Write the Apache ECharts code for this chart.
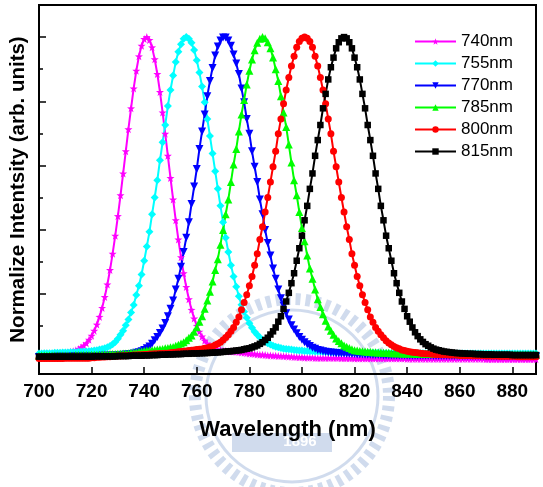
<!DOCTYPE html>
<html>
<head>
<meta charset="utf-8">
<script src="https://cdn.jsdelivr.net/npm/echarts@6/dist/echarts.min.js"></script>
<style>
html, body { margin: 0; padding: 0; background: #fff; }
#main { width: 543px; height: 487px; }
</style>
</head>
<body>
<div id="main"></div>
<script>
// wavelength grid: first sample and step (nm); each array below holds one value per nm, 700..889
var wlStart = 700;
var wlStep = 1;

// normalized intensity, in percent
var int740 = [
  0.9,0.9,0.9,1.0,1.0,1.1,1.2,1.2,1.3,1.4,
  1.5,1.7,1.9,2.1,2.4,2.8,3.3,3.9,4.6,5.7,
  6.9,8.5,10.4,12.8,15.6,19.0,22.9,27.4,32.5,38.1,
  44.2,50.7,57.5,64.4,71.3,77.8,84.0,89.5,94.0,97.3,
  99.4,100,99.1,96.8,93.1,88.5,82.9,76.5,69.9,63.0,
  56.1,49.4,42.9,36.9,31.4,26.4,22.1,18.3,15.0,12.3,
  10.0,8.2,6.7,5.4,4.5,3.7,3.1,2.7,2.6,2.5,
  2.3,2.2,2.1,2.0,2.0,1.9,1.8,1.7,1.6,1.5,
  1.4,1.3,1.2,1.1,1.0,1.0,0.9,0.8,0.8,0.7,
  0.7,0.6,0.6,0.5,0.5,0.4,0.4,0.3,0.3,0.2,
  0.2,0.1,0.1,0.1,0.1,0,0,0,0,0,
  0,0,0,0,0,-0.1,-0.1,-0.1,-0.1,-0.1,
  -0.2,-0.2,-0.2,-0.2,-0.2,-0.2,-0.2,-0.2,-0.2,-0.2,
  -0.2,-0.2,-0.2,-0.2,-0.2,-0.2,-0.2,-0.2,-0.2,-0.2,
  -0.3,-0.3,-0.3,-0.3,-0.3,-0.3,-0.3,-0.3,-0.3,-0.3,
  -0.3,-0.3,-0.3,-0.3,-0.3,-0.3,-0.3,-0.3,-0.3,-0.3,
  -0.3,-0.3,-0.3,-0.3,-0.3,-0.3,-0.3,-0.3,-0.3,-0.3,
  -0.4,-0.4,-0.4,-0.4,-0.4,-0.4,-0.4,-0.4,-0.4,-0.4,
  -0.4,-0.4,-0.4,-0.4,-0.4,-0.4,-0.4,-0.4,-0.4,-0.4
];
var int755 = [
  1.4,1.4,1.5,1.5,1.5,1.5,1.6,1.6,1.6,1.7,
  1.7,1.7,1.8,1.8,1.8,1.9,1.9,2.0,2.0,2.1,
  2.2,2.3,2.4,2.6,2.8,3.0,3.3,3.7,4.3,5.0,
  6.0,7.2,8.5,10.2,12.0,14.2,16.5,19.6,22.5,26.0,
  30.3,34.7,39.3,44.8,50.0,55.4,61.6,67.2,72.6,78.5,
  83.5,88.0,92.2,95.4,97.8,99.5,100,99.5,98.2,96.0,
  92.8,89.0,84.6,79.7,74.5,69.2,63.7,58.2,52.7,47.4,
  42.3,37.5,33.0,28.9,25.4,22.2,19.2,16.6,14.4,12.5,
  10.8,9.4,8.2,7.2,6.4,5.7,5.1,4.6,4.2,3.8,
  3.5,3.3,3.1,2.9,2.8,2.7,2.6,2.5,2.4,2.3,
  2.3,2.2,2.2,2.1,2.1,2.0,2.0,2.0,1.9,1.9,
  1.9,1.8,1.8,1.8,1.8,1.7,1.7,1.7,1.7,1.7,
  1.7,1.6,1.6,1.6,1.6,1.6,1.6,1.6,1.6,1.6,
  1.5,1.5,1.5,1.5,1.5,1.5,1.5,1.5,1.5,1.5,
  1.5,1.5,1.5,1.5,1.5,1.5,1.5,1.5,1.5,1.5,
  1.5,1.5,1.5,1.5,1.5,1.4,1.4,1.4,1.4,1.4,
  1.4,1.4,1.4,1.4,1.4,1.4,1.4,1.4,1.4,1.4,
  1.4,1.4,1.4,1.4,1.4,1.4,1.4,1.4,1.4,1.4,
  1.4,1.4,1.4,1.4,1.4,1.4,1.4,1.4,1.4,1.4
];
var int770 = [
  0.3,0.3,0.3,0.3,0.3,0.3,0.4,0.4,0.4,0.4,
  0.4,0.4,0.4,0.5,0.5,0.5,0.5,0.5,0.5,0.6,
  0.6,0.6,0.6,0.6,0.7,0.7,0.7,0.8,0.8,0.85,
  0.9,0.9,1.0,1.05,1.15,1.25,1.4,1.6,1.8,2.1,
  2.5,3.0,3.6,4.4,5.5,6.5,7.8,9.2,10.9,13.0,
  15.3,17.9,21.3,24.7,28.4,33.0,37.5,42.3,48.0,53.4,
  58.9,65.1,70.6,75.9,81.6,86.3,90.4,94.3,97.1,98.9,
  99.9,99.9,98.9,97.3,94.6,91.8,88.5,84.0,79.7,74.5,
  69.9,64.4,59.6,54.8,49.4,44.8,39.9,35.8,31.9,27.9,
  24.7,21.3,18.6,16.3,13.9,12.0,10.2,8.9,7.7,6.5,
  5.7,4.9,4.3,3.7,3.2,2.9,2.5,2.3,2.1,1.9,
  1.8,1.7,1.6,1.5,1.5,1.4,1.4,1.3,1.3,1.2,
  1.2,1.1,1.1,1.1,1.0,1.0,1.0,0.9,0.9,0.9,
  0.9,0.8,0.8,0.8,0.8,0.8,0.8,0.8,0.8,0.8,
  0.7,0.7,0.7,0.7,0.7,0.7,0.7,0.7,0.7,0.7,
  0.6,0.6,0.6,0.6,0.6,0.6,0.6,0.6,0.6,0.6,
  0.6,0.6,0.6,0.6,0.6,0.6,0.6,0.6,0.6,0.6,
  0.5,0.5,0.5,0.5,0.5,0.5,0.5,0.5,0.5,0.5,
  0.5,0.5,0.5,0.5,0.5,0.5,0.5,0.5,0.5,0.5
];
var int785 = [
  0.8,0.8,0.8,0.8,0.8,0.8,0.8,0.8,0.8,0.8,
  0.8,0.8,0.8,0.8,0.9,0.9,0.9,0.9,0.9,0.9,
  1.0,1.0,1.0,1.0,1.1,1.1,1.1,1.2,1.2,1.2,
  1.3,1.3,1.4,1.4,1.5,1.6,1.7,1.8,1.9,2.0,
  2.2,2.3,2.3,2.4,2.5,2.6,2.7,2.8,3.0,3.1,
  3.3,3.4,3.8,4.1,4.5,4.9,5.5,6.3,7.0,8.2,
  9.6,11.3,13.0,15.3,17.9,20.6,23.8,27.4,30.8,35.3,
  39.9,44.8,49.4,54.8,60.3,65.1,70.6,75.9,80.4,85.2,
  89.5,93.0,95.9,98.2,99.5,100,99.6,98.4,96.5,93.6,
  90.0,86.3,81.6,76.5,72.0,66.5,60.9,55.4,50.7,45.5,
  40.5,36.4,31.9,27.9,24.7,21.3,18.3,15.9,13.6,11.6,
  9.8,8.5,7.2,6.1,5.3,4.6,3.9,3.5,3.1,2.7,
  2.4,2.3,2.2,2.1,2.0,1.9,1.9,1.8,1.8,1.7,
  1.7,1.6,1.6,1.6,1.5,1.5,1.5,1.5,1.4,1.4,
  1.4,1.4,1.4,1.3,1.3,1.3,1.3,1.3,1.3,1.2,
  1.2,1.2,1.2,1.2,1.2,1.2,1.2,1.2,1.2,1.2,
  1.1,1.1,1.1,1.1,1.1,1.1,1.1,1.1,1.1,1.1,
  1.1,1.1,1.1,1.1,1.0,1.0,1.0,1.0,1.0,1.0,
  1.0,1.0,1.0,1.0,1.0,1.0,1.0,1.0,1.0,1.0
];
var int800 = [
  -0.2,-0.2,-0.2,-0.2,-0.2,-0.2,-0.2,-0.2,-0.2,-0.2,
  -0.1,-0.1,-0.1,-0.1,-0.1,-0.1,-0.1,-0.1,-0.1,-0.1,
  0.1,0.1,0.2,0.2,0.3,0.3,0.4,0.4,0.5,0.5,
  0.6,0.6,0.7,0.7,0.8,0.8,0.9,0.9,1.0,1.0,
  1.1,1.1,1.2,1.2,1.3,1.3,1.4,1.4,1.5,1.5,
  1.6,1.7,1.8,1.9,2.0,2.1,2.2,2.3,2.4,2.5,
  2.6,2.7,2.8,3.0,3.1,3.4,3.6,4.0,4.4,4.9,
  5.6,6.4,7.2,8.3,9.5,11.1,12.8,15.0,17.3,19.7,
  22.5,25.4,28.9,32.5,36.9,40.9,45.5,50.0,54.8,59.6,
  64.4,69.9,74.5,79.2,83.5,87.4,91.0,94.0,96.8,98.6,
  99.6,100,99.6,98.6,96.8,94.0,91.0,87.4,83.5,79.2,
  74.5,69.9,64.4,59.6,54.8,50.0,45.5,40.9,36.9,32.5,
  28.9,25.4,22.5,19.7,17.3,15.0,12.8,11.1,9.5,8.3,
  7.2,6.3,5.4,4.65,4.1,3.6,3.2,2.85,2.5,2.3,
  2.1,1.9,1.8,1.7,1.6,1.5,1.4,1.3,1.3,1.2,
  1.15,1.1,1.1,1.0,1.0,1.0,0.9,0.9,0.9,0.9,
  0.8,0.8,0.8,0.8,0.8,0.7,0.7,0.7,0.7,0.7,
  0.6,0.6,0.6,0.6,0.6,0.5,0.5,0.5,0.5,0.5,
  0.5,0.5,0.4,0.4,0.4,0.4,0.4,0.4,0.4,0.4
];
var int815 = [
  0.4,0.4,0.4,0.4,0.4,0.4,0.4,0.4,0.4,0.4,
  0.4,0.4,0.4,0.4,0.4,0.4,0.4,0.4,0.4,0.4,
  0.4,0.5,0.5,0.5,0.5,0.5,0.5,0.5,0.5,0.5,
  0.6,0.6,0.6,0.6,0.6,0.7,0.7,0.7,0.7,0.7,
  0.8,0.8,0.8,0.9,0.9,0.9,1.0,1.0,1.0,1.1,
  1.1,1.1,1.2,1.2,1.2,1.3,1.3,1.3,1.4,1.4,
  1.4,1.45,1.5,1.5,1.55,1.6,1.65,1.7,1.75,1.8,
  1.9,2.0,2.05,2.1,2.2,2.3,2.4,2.5,2.7,2.9,
  3.0,3.3,3.6,3.9,4.4,4.9,5.6,6.3,7.3,8.3,
  9.5,11.3,13.0,15.3,17.6,20.3,23.3,26.4,30.3,34.2,
  38.1,42.9,47.4,52.7,57.5,63.0,67.9,72.6,77.8,82.3,
  86.8,90.6,93.6,96.5,98.4,99.6,100,99.6,98.4,96.5,
  93.6,90.6,86.8,82.3,77.8,72.6,67.9,63.0,57.5,52.7,
  47.4,42.9,38.1,34.2,30.3,26.4,23.3,20.3,17.6,15.3,
  13.0,11.3,9.5,8.0,6.8,5.8,5.0,4.3,3.8,3.3,
  2.9,2.6,2.4,2.2,2.0,1.9,1.8,1.7,1.6,1.5,
  1.5,1.4,1.4,1.3,1.3,1.3,1.2,1.2,1.2,1.1,
  1.1,1.1,1.1,1.0,1.0,1.0,1.0,1.0,1.0,1.0,
  0.9,0.9,0.9,0.9,0.9,0.9,0.9,0.9,0.9,0.9
];

var seriesNames = ['740nm', '755nm', '770nm', '785nm', '800nm', '815nm'];
var seriesValues = [int740, int755, int770, int785, int800, int815];
var seriesColors = ['#ff00ff', '#00ffff', '#0000ff', '#00ff00', '#ff0000', '#000000'];
var starPath = 'path://M0,-10L2.35,-3.24L9.51,-3.09L3.8,1.24L5.88,8.09L0,4L-5.88,8.09L-3.8,1.24L-9.51,-3.09L-2.35,-3.24Z';
var seriesSymbols = [starPath, 'diamond', 'triangle', 'triangle', 'circle', 'rect'];
var seriesRotate = [0, 0, 180, 0, 0, 0];
var seriesSymbolSize = [8, 8, 8, 8, 7, 6.5];

var xTicks = { min: 700, max: 889, step: 20 };
var yMajorTicks = [0, 0.2, 0.4, 0.6, 0.8, 1.0];
var yMinorTicks = [0.1, 0.3, 0.5, 0.7, 0.9];

var font = "'Liberation Sans', Arial, Helvetica, sans-serif";

var series = seriesValues.map(function (vals, k) {
  return {
    name: seriesNames[k],
    type: 'line',
    data: vals.map(function (v, i) { return [wlStart + i * wlStep, v / 100]; }),
    symbol: seriesSymbols[k],
    symbolRotate: seriesRotate[k],
    symbolSize: seriesSymbolSize[k],
    showAllSymbol: true,
    lineStyle: { color: seriesColors[k], width: 2 },
    itemStyle: { color: seriesColors[k] },
    emphasis: { disabled: true }
  };
});

// faint university emblem behind the plot (watermark of the source page)
var wmColor = 'rgba(150, 175, 215, 0.45)';
var watermark = [
  { type: 'circle', z: -10, shape: { cx: 292, cy: 396, r: 97 },
    style: { fill: 'none', stroke: wmColor, lineWidth: 12, lineDash: [5, 5] } },
  { type: 'circle', z: -10, shape: { cx: 292, cy: 396, r: 86 },
    style: { fill: 'none', stroke: wmColor, lineWidth: 3 } },
  { type: 'rect', z: -10, shape: { x: 232, y: 433, width: 100, height: 19 },
    style: { fill: wmColor } },
  { type: 'text', z: -9, x: 300, y: 442,
    style: { text: '1896', fill: '#ffffff', font: 'bold 15px ' + "'Liberation Sans', Arial, sans-serif",
      textAlign: 'center', textVerticalAlign: 'middle' } }
];

var myChart = echarts.init(document.getElementById('main'));

var option = {
  animation: false,
  backgroundColor: '#ffffff',
  graphic: watermark,
  grid: {
    left: 37, right: 7, top: 5, bottom: 113,
    show: true, borderColor: '#000', borderWidth: 2, backgroundColor: 'transparent'
  },
  legend: {
    data: seriesNames,
    orient: 'vertical',
    left: 414,
    top: 33,
    padding: 0,
    itemWidth: 41,
    itemHeight: 8,
    itemGap: 5,
    textStyle: { fontFamily: font, fontSize: 17, color: '#000' }
  },
  xAxis: {
    type: 'value',
    min: xTicks.min,
    max: xTicks.max,
    interval: xTicks.step,
    name: 'Wavelength (nm)',
    nameLocation: 'middle',
    nameGap: 45,
    nameTextStyle: { fontFamily: font, fontSize: 22, fontWeight: 'bold', color: '#000' },
    axisLine: { onZero: false, lineStyle: { color: '#000', width: 2 } },
    axisTick: { inside: true, length: 7, lineStyle: { color: '#000', width: 1.5 } },
    axisLabel: {
      showMaxLabel: false,
      margin: 8,
      fontFamily: font, fontSize: 19, fontWeight: 'bold', color: '#000'
    },
    splitLine: { show: false }
  },
  yAxis: [
    {
      type: 'value',
      min: -0.05,
      max: 1.1,
      position: 'left',
      name: 'Normalize Intentsity (arb. units)',
      nameLocation: 'middle',
      nameGap: 10,
      nameTextStyle: { fontFamily: font, fontSize: 20.5, fontWeight: 'bold', color: '#000' },
      axisLine: { show: true, onZero: false, lineStyle: { color: '#000', width: 2 } },
      axisTick: { show: true, inside: true, length: 7, customValues: yMajorTicks, lineStyle: { color: '#000', width: 1.5 } },
      axisLabel: { show: false },
      splitLine: { show: false }
    },
    {
      type: 'value',
      min: -0.05,
      max: 1.1,
      position: 'left',
      axisLine: { show: false },
      axisTick: { show: true, inside: true, length: 4, customValues: yMinorTicks, lineStyle: { color: '#000', width: 1.5 } },
      axisLabel: { show: false },
      splitLine: { show: false }
    }
  ],
  series: series
};

myChart.setOption(option);
</script>
</body>
</html>
